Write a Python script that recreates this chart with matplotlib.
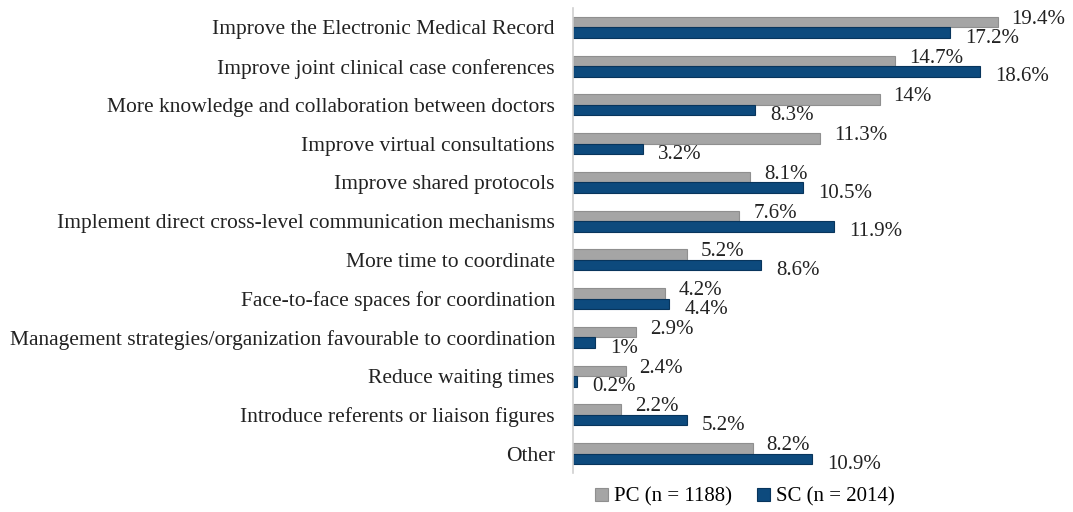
import matplotlib
matplotlib.use("Agg")
import matplotlib.pyplot as plt
import numpy as np

categories = [
    "Improve the Electronic Medical Record",
    "Improve joint clinical case conferences",
    "More knowledge and collaboration between doctors",
    "Improve virtual consultations",
    "Improve shared protocols",
    "Implement direct cross-level communication mechanisms",
    "More time to coordinate",
    "Face-to-face spaces for coordination",
    "Management strategies/organization favourable to coordination",
    "Reduce waiting times",
    "Introduce referents or liaison figures",
    "Other",
]
pc_values = [19.4, 14.7, 14.0, 11.3, 8.1, 7.6, 5.2, 4.2, 2.9, 2.4, 2.2, 8.2]
sc_values = [17.2, 18.6, 8.3, 3.2, 10.5, 11.9, 8.6, 4.4, 1.0, 0.2, 5.2, 10.9]
pc_labels = ["19.4%", "14.7%", "14%", "11.3%", "8.1%", "7.6%", "5.2%", "4.2%", "2.9%", "2.4%", "2.2%", "8.2%"]
sc_labels = ["17.2%", "18.6%", "8.3%", "3.2%", "10.5%", "11.9%", "8.6%", "4.4%", "1%", "0.2%", "5.2%", "10.9%"]
series_names = ["PC (n = 1188)", "SC (n = 2014)"]

plt.rcParams['font.family'] = ['Liberation Serif', 'DejaVu Serif']

W, H = 1073, 512
fig = plt.figure(figsize=(W / 100, H / 100), dpi=100)
ax = fig.add_axes([573 / W, 1 - 473 / H, (1035 - 573) / W, 465 / H])

y = np.arange(len(categories))
bh = 0.27
gray = "#a5a5a5"
blue = "#0d4a7d"
ax.barh(y - bh / 2, pc_values, height=bh, color=gray, edgecolor="#8f8f8f", linewidth=0.8, label=series_names[0])
ax.barh(y + bh / 2, sc_values, height=bh, color=blue, edgecolor="#08355c", linewidth=0.8, label=series_names[1])

ax.set_ylim(len(categories) - 0.5, -0.5)
ax.set_xlim(0, 21.1)
ax.set_yticks(y)
ax.set_yticklabels(categories, fontsize=15.5, color="#222222")
ax.tick_params(axis='y', length=0, pad=13)
ax.set_xticks([])
for s in ["top", "right", "bottom"]:
    ax.spines[s].set_visible(False)
ax.spines["left"].set_color("#d0d0d0")
ax.spines["left"].set_linewidth(1.2)

for i in range(len(categories)):
    ax.annotate(pc_labels[i], (pc_values[i], y[i] - bh / 2), xytext=(10, 2),
                textcoords="offset points", ha="left", va="center", fontsize=15, color="#222222")
    ax.annotate(sc_labels[i], (sc_values[i], y[i] + bh / 2), xytext=(11, -4),
                textcoords="offset points", ha="left", va="center", fontsize=15, color="#222222")

fig.legend(loc="center", bbox_to_anchor=(745 / W, 1 - 497 / H), ncol=2, frameon=False,
           fontsize=15, handlelength=0.6, handleheight=0.6, handletextpad=0.3, columnspacing=1.2)

fig.savefig("out.png", dpi=100)
